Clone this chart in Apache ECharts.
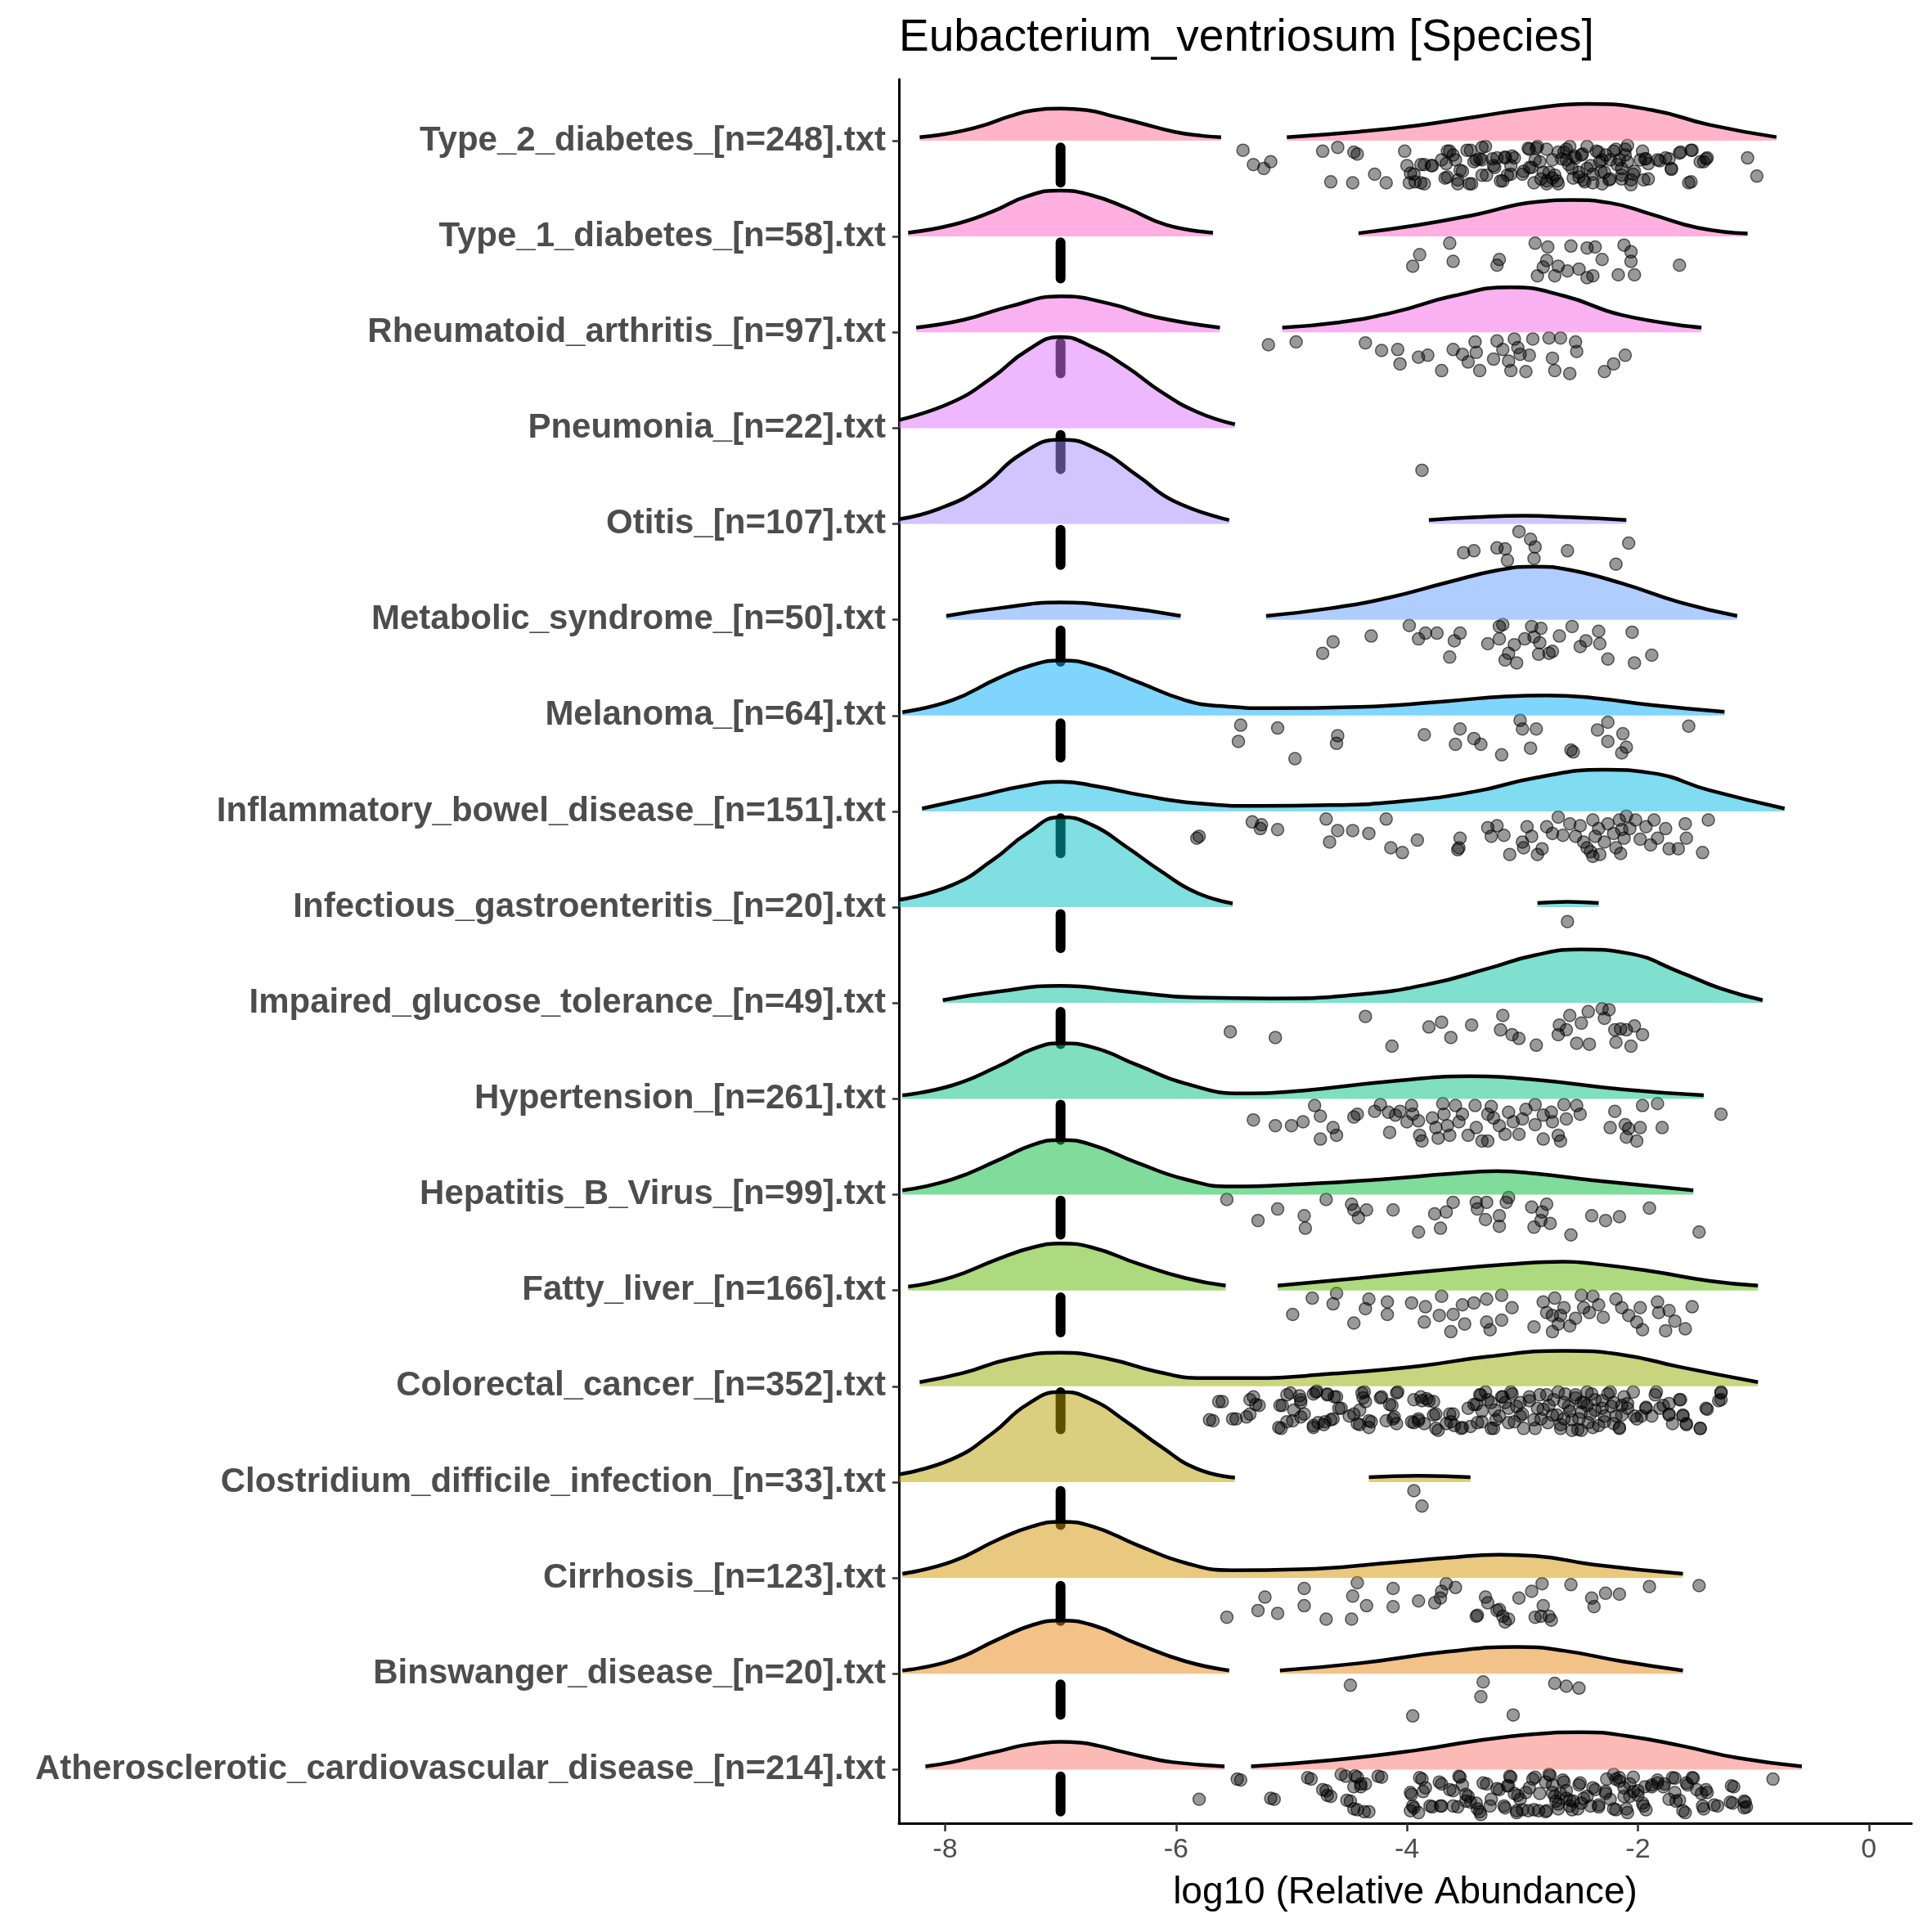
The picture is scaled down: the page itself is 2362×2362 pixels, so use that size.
<!DOCTYPE html>
<html>
<head>
<meta charset="utf-8">
<script src="https://cdn.jsdelivr.net/npm/echarts@6/dist/echarts.min.js"></script>
<style>
html, body { margin: 0; padding: 0; background: #fff; }
#main { width: 2362px; height: 2362px; }
</style>
</head>
<body>
<div id="main"></div>
<script>
// rows from bottom (1) to top (18)
var categories = [
  'Atherosclerotic_cardiovascular_disease_[n=214].txt',
  'Binswanger_disease_[n=20].txt',
  'Cirrhosis_[n=123].txt',
  'Clostridium_difficile_infection_[n=33].txt',
  'Colorectal_cancer_[n=352].txt',
  'Fatty_liver_[n=166].txt',
  'Hepatitis_B_Virus_[n=99].txt',
  'Hypertension_[n=261].txt',
  'Impaired_glucose_tolerance_[n=49].txt',
  'Infectious_gastroenteritis_[n=20].txt',
  'Inflammatory_bowel_disease_[n=151].txt',
  'Melanoma_[n=64].txt',
  'Metabolic_syndrome_[n=50].txt',
  'Otitis_[n=107].txt',
  'Pneumonia_[n=22].txt',
  'Rheumatoid_arthritis_[n=97].txt',
  'Type_1_diabetes_[n=58].txt',
  'Type_2_diabetes_[n=248].txt'
];

// half-violin outlines per row: pieces of [log10 abundance, height above row]
var density = [
  [[[-8.17,0.034],[-7.94,0.077],[-7.69,0.15],[-7.49,0.205],[-7.34,0.25],[-7.19,0.276],[-7.0,0.29],[-6.83,0.28],[-6.68,0.25],[-6.48,0.19],[-6.28,0.134],[-6.03,0.077],[-5.58,0.034]],
   [[-5.35,0.034],[-4.66,0.097],[-3.90,0.205],[-3.40,0.30],[-2.89,0.37],[-2.49,0.39],[-2.09,0.35],[-1.63,0.25],[-1.13,0.12],[-0.58,0.034]]],
  [[[-8.37,0.034],[-7.94,0.14],[-7.54,0.36],[-7.24,0.51],[-7.0,0.555],[-6.73,0.51],[-6.33,0.31],[-5.92,0.13],[-5.54,0.034]],
   [[-5.10,0.034],[-4.41,0.11],[-3.65,0.23],[-3.05,0.28],[-2.64,0.24],[-2.14,0.13],[-1.61,0.034]]],
  [[[-8.37,0.043],[-7.94,0.17],[-7.54,0.40],[-7.24,0.54],[-7.0,0.585],[-6.73,0.54],[-6.33,0.34],[-5.92,0.157],[-5.52,0.08],[-4.91,0.09],[-4.16,0.157],[-3.65,0.21],[-3.20,0.243],[-2.89,0.23],[-2.39,0.14],[-1.61,0.043]]],
  [[[-8.40,0.08],[-7.94,0.24],[-7.59,0.51],[-7.29,0.81],[-7.0,0.94],[-6.73,0.86],[-6.43,0.63],[-6.13,0.37],[-5.82,0.14],[-5.49,0.046]],
   [[-4.33,0.05],[-3.90,0.066],[-3.45,0.05]]],
  [[[-8.22,0.043],[-7.84,0.14],[-7.44,0.285],[-7.0,0.35],[-6.58,0.285],[-6.18,0.157],[-5.77,0.086],[-5.32,0.086],[-4.66,0.13],[-3.90,0.21],[-3.30,0.31],[-2.64,0.37],[-2.14,0.33],[-1.63,0.20],[-0.96,0.043]]],
  [[[-8.32,0.04],[-7.94,0.14],[-7.54,0.33],[-7.24,0.45],[-7.0,0.49],[-6.73,0.45],[-6.33,0.28],[-5.92,0.13],[-5.57,0.05]],
   [[-5.12,0.05],[-4.41,0.13],[-3.65,0.22],[-3.15,0.27],[-2.64,0.30],[-2.39,0.28],[-1.88,0.20],[-1.38,0.10],[-0.96,0.05]]],
  [[[-8.37,0.045],[-7.94,0.16],[-7.54,0.36],[-7.24,0.52],[-7.0,0.57],[-6.73,0.52],[-6.33,0.33],[-5.92,0.16],[-5.52,0.085],[-4.91,0.11],[-4.16,0.165],[-3.65,0.215],[-3.22,0.245],[-2.89,0.22],[-2.39,0.15],[-1.52,0.045]]],
  [[[-8.37,0.037],[-7.94,0.14],[-7.54,0.34],[-7.24,0.52],[-7.0,0.58],[-6.73,0.54],[-6.33,0.35],[-5.92,0.16],[-5.42,0.057],[-4.91,0.085],[-4.16,0.18],[-3.45,0.235],[-2.89,0.20],[-2.14,0.10],[-1.43,0.037]]],
  [[[-8.02,0.03],[-7.54,0.12],[-7.0,0.18],[-6.43,0.12],[-5.82,0.057],[-5.17,0.048],[-4.41,0.09],[-3.80,0.20],[-3.30,0.36],[-2.89,0.50],[-2.49,0.56],[-2.09,0.52],[-1.63,0.32],[-1.28,0.15],[-0.92,0.03]]],
  [[[-8.40,0.077],[-7.94,0.23],[-7.59,0.49],[-7.29,0.77],[-7.0,0.94],[-6.73,0.86],[-6.43,0.63],[-6.13,0.375],[-5.82,0.15],[-5.51,0.04]],
   [[-2.87,0.043],[-2.61,0.057],[-2.34,0.043]]],
  [[[-8.20,0.03],[-7.69,0.165],[-7.34,0.26],[-7.0,0.31],[-6.68,0.26],[-6.28,0.165],[-5.82,0.085],[-5.27,0.057],[-4.66,0.065],[-4.00,0.11],[-3.40,0.21],[-2.89,0.35],[-2.29,0.435],[-1.88,0.40],[-1.38,0.22],[-0.73,0.03]]],
  [[[-8.37,0.035],[-7.94,0.16],[-7.54,0.39],[-7.24,0.53],[-7.0,0.575],[-6.73,0.53],[-6.33,0.35],[-5.92,0.16],[-5.62,0.10],[-5.17,0.077],[-4.41,0.09],[-3.65,0.15],[-3.15,0.20],[-2.79,0.21],[-2.39,0.185],[-1.88,0.11],[-1.25,0.04]]],
  [[[-7.99,0.04],[-7.54,0.12],[-7.0,0.18],[-6.53,0.14],[-5.96,0.04]],
   [[-5.22,0.04],[-4.66,0.12],[-4.16,0.23],[-3.65,0.39],[-3.20,0.52],[-2.89,0.555],[-2.59,0.52],[-2.14,0.38],[-1.63,0.18],[-1.14,0.04]]],
  [[[-8.40,0.05],[-8.05,0.16],[-7.69,0.38],[-7.34,0.73],[-7.0,0.88],[-6.68,0.78],[-6.33,0.50],[-6.02,0.24],[-5.54,0.04]],
   [[-3.81,0.04],[-3.40,0.07],[-2.99,0.085],[-2.59,0.07],[-2.10,0.04]]],
  [[[-8.40,0.085],[-7.94,0.27],[-7.59,0.53],[-7.29,0.81],[-7.0,0.95],[-6.73,0.85],[-6.43,0.64],[-6.13,0.38],[-5.82,0.17],[-5.49,0.04]]],
  [[[-8.25,0.05],[-7.84,0.13],[-7.44,0.27],[-7.0,0.375],[-6.58,0.30],[-6.18,0.16],[-5.62,0.05]],
   [[-5.08,0.05],[-4.61,0.10],[-4.11,0.21],[-3.60,0.38],[-3.10,0.47],[-2.64,0.38],[-2.14,0.18],[-1.45,0.05]]],
  [[[-8.32,0.04],[-7.94,0.12],[-7.59,0.26],[-7.29,0.42],[-7.0,0.48],[-6.73,0.43],[-6.43,0.30],[-6.08,0.12],[-5.68,0.04]],
   [[-4.42,0.034],[-3.90,0.12],[-3.40,0.23],[-2.89,0.36],[-2.57,0.38],[-2.24,0.35],[-1.88,0.23],[-1.48,0.09],[-1.05,0.03]]],
  [[[-8.22,0.037],[-8.05,0.06],[-7.84,0.105],[-7.64,0.17],[-7.44,0.255],[-7.24,0.315],[-7.0,0.335],[-6.78,0.32],[-6.53,0.25],[-6.33,0.19],[-6.02,0.094],[-5.77,0.05],[-5.61,0.037]],
   [[-5.04,0.037],[-4.41,0.094],[-3.90,0.16],[-3.40,0.25],[-2.89,0.34],[-2.44,0.383],[-1.88,0.32],[-1.38,0.165],[-0.80,0.037]]]
];

// non-zero samples: [log10 abundance, jitter below row]
var points = [
  [[-5.80,0.31],[-5.44,0.11],[-5.15,0.31],[-4.83,0.10],[-4.70,0.22],[-4.66,0.28],[-4.53,0.07],[-4.49,0.33],[-4.43,0.08],[-4.40,0.18],[-4.36,0.15],[-4.43,0.42],[-4.33,0.44],[-4.22,0.08],[-3.96,0.26],[-3.94,0.40],[-3.90,0.45],[-3.87,0.10],[-3.84,0.19],[-3.78,0.39],[-3.70,0.38],[-3.70,0.15],[-3.60,0.22],[-3.56,0.39],[-3.54,0.08],[-3.52,0.16],[-3.47,0.28],[-3.45,0.34],[-3.39,0.41],[-3.36,0.47],[-3.31,0.15],[-3.27,0.31],[-3.20,0.21],[-3.15,0.40],[-3.12,0.17],[-3.10,0.08],[-3.07,0.25],[-3.05,0.45],[-3.02,0.31],[-3.00,0.42],[-2.94,0.19],[-2.90,0.42],[-2.89,0.08],[-2.85,0.25],[-2.80,0.44],[-2.77,0.05],[-2.74,0.16],[-2.72,0.28],[-2.69,0.36],[-2.65,0.11],[-2.62,0.22],[-2.59,0.32],[-2.57,0.42],[-2.51,0.16],[-2.49,0.35],[-2.44,0.28],[-2.39,0.19],[-2.34,0.39],[-2.28,0.25],[-2.21,0.05],[-2.19,0.42],[-2.16,0.12],[-2.12,0.19],[-2.09,0.45],[-2.07,0.28],[-2.04,0.08],[-2.00,0.22],[-1.96,0.35],[-1.93,0.42],[-1.88,0.16],[-1.83,0.11],[-1.78,0.18],[-1.73,0.31],[-1.68,0.09],[-1.64,0.32],[-1.59,0.45],[-1.57,0.16],[-1.52,0.09],[-1.45,0.25],[-1.43,0.41],[-1.40,0.24],[-1.31,0.38],[-1.18,0.35],[-1.17,0.18],[-1.07,0.34],[-1.06,0.39],[-0.83,0.10],[-2.67,0.25],[-2.24,0.31],
   [-5.47,0.10],[-5.18,0.30],[-4.86,0.085],[-4.73,0.21],[-4.69,0.27],[-4.57,0.05],[-4.45,0.065],[-4.40,0.15],[-4.46,0.18],[-4.52,0.32],[-4.46,0.41],[-4.37,0.44],[-4.25,0.07],[-3.97,0.24],[-3.95,0.38],[-3.97,0.43],[-3.89,0.085],[-3.86,0.23],[-3.80,0.38],[-3.72,0.13],[-3.71,0.38],[-3.63,0.21],[-3.60,0.38],[-3.55,0.07],[-3.49,0.26],[-3.49,0.33],[-3.40,0.35],[-3.37,0.44],[-3.34,0.14],[-3.28,0.38],[-3.22,0.20],[-3.16,0.38],[-3.13,0.17],[-3.11,0.07],[-3.04,0.27],[-3.05,0.43],[-2.97,0.24],[-2.95,0.43],[-2.91,0.10],[-2.86,0.43],[-2.80,0.13],[-2.79,0.43],[-2.76,0.06],[-2.74,0.24],[-2.71,0.33],[-2.69,0.41],[-2.64,0.13],[-2.62,0.30],[-2.59,0.38],[-2.56,0.33],[-2.52,0.41],[-2.50,0.14],[-2.47,0.30],[-2.41,0.38],[-2.37,0.21],[-2.34,0.37],[-2.28,0.23],[-2.27,0.10],[-2.21,0.41],[-2.19,0.10],[-2.16,0.085],[-2.12,0.28],[-2.10,0.41],[-2.07,0.15],[-2.04,0.23],[-2.00,0.27],[-1.95,0.38],[-1.94,0.18],[-1.88,0.18],[-1.83,0.14],[-1.77,0.15],[-1.70,0.085],[-1.68,0.24],[-1.67,0.33],[-1.61,0.43],[-1.58,0.14],[-1.53,0.085],[-1.49,0.21],[-1.44,0.38],[-1.41,0.21],[-1.34,0.37],[-1.20,0.34],[-1.19,0.17],[-1.08,0.33],[-1.08,0.40]],
  [[-4.49,0.12],[-3.34,0.085],[-3.36,0.24],[-2.72,0.10],[-2.62,0.13],[-2.51,0.15],[-3.95,0.44],[-3.08,0.43]],
  [[-5.56,0.41],[-5.29,0.34],[-5.23,0.20],[-5.12,0.37],[-4.89,0.11],[-4.89,0.29],[-4.70,0.43],[-4.48,0.43],[-4.47,0.19],[-4.43,0.05],[-4.35,0.29],[-4.12,0.11],[-4.12,0.30],[-3.90,0.24],[-3.76,0.26],[-3.71,0.21],[-3.70,0.14],[-3.66,0.06],[-3.58,0.10],[-3.39,0.39],[-3.32,0.20],[-3.30,0.26],[-3.22,0.34],[-3.17,0.40],[-3.15,0.46],[-3.03,0.21],[-2.92,0.14],[-2.89,0.41],[-2.83,0.06],[-2.82,0.29],[-2.77,0.40],[-2.75,0.44],[-2.58,0.07],[-2.40,0.21],[-2.38,0.30],[-2.28,0.16],[-2.16,0.17],[-1.90,0.09],[-1.47,0.08],[-3.40,0.40],[-3.12,0.43],[-2.84,0.40],[-3.20,0.33]],
  [[-3.94,0.09],[-3.87,0.25]],
  [[-5.68,0.36],[-5.60,0.16],[-5.48,0.34],[-5.36,0.29],[-5.33,0.11],[-5.28,0.20],[-5.09,0.44],[-5.08,0.20],[-5.01,0.07],[-4.99,0.36],[-4.92,0.14],[-4.89,0.29],[-4.81,0.43],[-4.79,0.06],[-4.72,0.40],[-4.69,0.09],[-4.64,0.34],[-4.61,0.11],[-4.57,0.23],[-4.46,0.29],[-4.41,0.40],[-4.37,0.06],[-4.36,0.16],[-4.31,0.37],[-4.22,0.11],[-4.13,0.20],[-4.12,0.34],[-4.08,0.06],[-3.96,0.37],[-3.90,0.34],[-3.88,0.11],[-3.83,0.13],[-3.75,0.29],[-3.73,0.46],[-3.62,0.37],[-3.60,0.29],[-3.52,0.43],[-3.47,0.23],[-3.40,0.19],[-3.37,0.09],[-3.35,0.37],[-3.32,0.06],[-3.27,0.17],[-3.25,0.44],[-3.20,0.31],[-3.17,0.11],[-3.12,0.23],[-3.10,0.06],[-3.07,0.37],[-3.02,0.17],[-3.00,0.29],[-2.94,0.11],[-2.89,0.44],[-2.87,0.23],[-2.84,0.34],[-2.79,0.09],[-2.77,0.20],[-2.74,0.30],[-2.69,0.06],[-2.67,0.40],[-2.64,0.17],[-2.59,0.26],[-2.57,0.46],[-2.54,0.09],[-2.51,0.34],[-2.49,0.17],[-2.44,0.06],[-2.41,0.29],[-2.39,0.43],[-2.37,0.14],[-2.31,0.23],[-2.29,0.37],[-2.24,0.06],[-2.21,0.17],[-2.19,0.31],[-2.16,0.43],[-2.12,0.11],[-2.09,0.23],[-2.04,0.06],[-2.01,0.34],[-1.93,0.23],[-1.88,0.31],[-1.84,0.06],[-1.78,0.20],[-1.73,0.29],[-1.70,0.39],[-1.63,0.14],[-1.61,0.30],[-1.58,0.40],[-1.46,0.44],[-1.41,0.23],[-1.28,0.14],[-1.28,0.06],[-3.35,0.26],[-2.64,0.34],[-2.44,0.20],[-2.14,0.20],[-2.49,0.46],
   [-5.63,0.16],[-5.71,0.35],[-5.51,0.34],[-5.39,0.32],[-5.36,0.14],[-5.31,0.19],[-5.10,0.20],[-5.04,0.09],[-4.98,0.25],[-4.93,0.10],[-4.92,0.17],[-4.92,0.32],[-5.04,0.37],[-5.11,0.43],[-4.81,0.08],[-4.78,0.05],[-4.69,0.08],[-4.63,0.11],[-4.59,0.23],[-4.81,0.41],[-4.77,0.38],[-4.71,0.37],[-4.66,0.35],[-4.50,0.31],[-4.41,0.25],[-4.38,0.12],[-4.39,0.07],[-4.43,0.39],[-4.33,0.36],[-4.33,0.43],[-4.23,0.12],[-4.15,0.19],[-4.09,0.07],[-4.18,0.36],[-4.11,0.32],[-4.09,0.39],[-3.94,0.14],[-3.87,0.15],[-3.81,0.15],[-3.77,0.16],[-3.94,0.38],[-3.90,0.36],[-3.85,0.39],[-3.77,0.30],[-3.75,0.44],[-3.66,0.39],[-3.63,0.29],[-3.59,0.41],[-3.53,0.44],[-3.45,0.42],[-3.39,0.38],[-3.42,0.19],[-3.36,0.09],[-3.30,0.14],[-3.24,0.25],[-3.23,0.35],[-3.27,0.44],[-3.18,0.11],[-3.15,0.17],[-3.12,0.38],[-3.09,0.08],[-3.05,0.21],[-3.02,0.31],[-2.99,0.44],[-2.94,0.15],[-2.90,0.35],[-2.85,0.09],[-2.82,0.24],[-2.78,0.38],[-2.73,0.14],[-2.70,0.30],[-2.67,0.44],[-2.63,0.08],[-2.60,0.21],[-2.57,0.35],[-2.54,0.12],[-2.52,0.45],[-2.49,0.27],[-2.47,0.17],[-2.43,0.38],[-2.40,0.08],[-2.37,0.25],[-2.34,0.41],[-2.31,0.15],[-2.29,0.31],[-2.26,0.08],[-2.23,0.21],[-2.21,0.39],[-2.16,0.44],[-2.14,0.30],[-2.09,0.18],[-2.03,0.31],[-1.97,0.31],[-1.93,0.22],[-1.85,0.09],[-1.81,0.23],[-1.73,0.30],[-1.73,0.18],[-1.64,0.14],[-1.61,0.31],[-1.58,0.39],[-1.46,0.44],[-1.40,0.24],[-1.30,0.15],[-1.28,0.07]],
  [[-4.99,0.25],[-4.82,0.08],[-4.64,0.14],[-4.61,0.03],[-4.46,0.34],[-4.36,0.19],[-4.33,0.09],[-4.17,0.12],[-4.17,0.25],[-3.96,0.13],[-3.84,0.17],[-3.85,0.33],[-3.72,0.26],[-3.70,0.06],[-3.62,0.43],[-3.60,0.25],[-3.52,0.15],[-3.50,0.35],[-3.42,0.13],[-3.31,0.09],[-3.31,0.33],[-3.28,0.41],[-3.18,0.31],[-3.18,0.05],[-3.09,0.18],[-2.90,0.38],[-2.82,0.12],[-2.79,0.23],[-2.74,0.43],[-2.72,0.08],[-2.67,0.26],[-2.64,0.18],[-2.59,0.37],[-2.54,0.29],[-2.49,0.05],[-2.47,0.18],[-2.39,0.06],[-2.34,0.15],[-2.30,0.28],[-2.19,0.09],[-2.14,0.18],[-2.08,0.26],[-2.01,0.33],[-1.96,0.41],[-1.98,0.18],[-1.83,0.12],[-1.82,0.23],[-1.76,0.42],[-1.73,0.21],[-1.68,0.32],[-1.59,0.40],[-1.53,0.17],[-2.74,0.26],[-2.69,0.35],[-2.42,0.23]],
  [[-5.56,0.05],[-5.29,0.27],[-5.12,0.15],[-4.89,0.22],[-4.88,0.35],[-4.70,0.05],[-4.48,0.10],[-4.46,0.16],[-4.42,0.24],[-4.35,0.16],[-4.12,0.16],[-3.90,0.39],[-3.76,0.20],[-3.71,0.35],[-3.66,0.18],[-3.60,0.08],[-3.40,0.08],[-3.39,0.15],[-3.31,0.08],[-3.32,0.26],[-3.20,0.22],[-3.20,0.33],[-3.14,0.08],[-3.12,0.03],[-2.92,0.13],[-2.83,0.18],[-2.79,0.10],[-2.84,0.27],[-2.90,0.34],[-2.76,0.30],[-2.58,0.42],[-2.40,0.22],[-2.28,0.27],[-2.16,0.23],[-1.90,0.14],[-1.47,0.39]],
  [[-5.33,0.22],[-5.14,0.28],[-5.00,0.28],[-4.90,0.24],[-4.80,0.07],[-4.75,0.18],[-4.75,0.42],[-4.64,0.30],[-4.61,0.38],[-4.46,0.19],[-4.43,0.16],[-4.28,0.13],[-4.23,0.06],[-4.16,0.14],[-4.15,0.35],[-4.10,0.17],[-4.06,0.13],[-3.96,0.07],[-3.95,0.16],[-3.90,0.23],[-3.89,0.38],[-3.87,0.44],[-3.78,0.20],[-3.75,0.30],[-3.73,0.41],[-3.69,0.05],[-3.68,0.16],[-3.65,0.28],[-3.63,0.38],[-3.58,0.07],[-3.52,0.16],[-3.47,0.38],[-3.41,0.07],[-3.40,0.30],[-3.35,0.44],[-3.30,0.44],[-3.27,0.08],[-3.25,0.20],[-3.20,0.28],[-3.15,0.37],[-3.12,0.14],[-3.03,0.37],[-3.00,0.21],[-2.97,0.11],[-2.89,0.06],[-2.89,0.27],[-2.82,0.42],[-2.75,0.14],[-2.74,0.24],[-2.69,0.38],[-2.67,0.44],[-2.64,0.06],[-2.62,0.21],[-2.53,0.07],[-2.50,0.16],[-2.20,0.13],[-2.24,0.30],[-2.11,0.27],[-2.10,0.40],[-2.08,0.31],[-1.98,0.30],[-2.01,0.44],[-1.96,0.07],[-1.83,0.05],[-1.79,0.30],[-1.28,0.16],[-3.30,0.16],[-2.82,0.17],[-3.55,0.24],[-3.08,0.24],[-4.00,0.24]],
  [[-5.53,0.30],[-5.14,0.36],[-4.36,0.14],[-4.13,0.45],[-3.81,0.25],[-3.70,0.20],[-3.62,0.36],[-3.44,0.23],[-3.17,0.13],[-3.19,0.28],[-3.09,0.33],[-3.03,0.37],[-2.88,0.44],[-2.69,0.33],[-2.68,0.23],[-2.62,0.28],[-2.59,0.13],[-2.53,0.42],[-2.49,0.21],[-2.42,0.43],[-2.43,0.09],[-2.31,0.06],[-2.29,0.16],[-2.25,0.07],[-2.20,0.28],[-2.19,0.41],[-2.10,0.28],[-2.06,0.45],[-2.03,0.24],[-1.96,0.33],[-2.15,0.27]],
  [[-2.61,0.15]],
  [[-5.82,0.28],[-5.80,0.26],[-5.34,0.11],[-5.26,0.14],[-5.27,0.18],[-5.12,0.19],[-4.70,0.08],[-4.67,0.32],[-4.60,0.20],[-4.47,0.20],[-4.33,0.23],[-4.18,0.08],[-4.14,0.38],[-4.04,0.43],[-3.91,0.30],[-3.55,0.38],[-3.54,0.28],[-3.56,0.40],[-3.30,0.17],[-3.27,0.26],[-3.22,0.15],[-3.16,0.25],[-3.11,0.45],[-3.00,0.32],[-2.99,0.38],[-2.96,0.16],[-2.92,0.26],[-2.87,0.45],[-2.83,0.39],[-2.79,0.16],[-2.74,0.23],[-2.69,0.06],[-2.65,0.25],[-2.59,0.13],[-2.54,0.26],[-2.50,0.15],[-2.44,0.38],[-2.41,0.42],[-2.39,0.09],[-2.37,0.26],[-2.34,0.18],[-2.33,0.45],[-2.29,0.32],[-2.26,0.13],[-2.21,0.23],[-2.19,0.38],[-2.16,0.09],[-2.15,0.44],[-2.12,0.28],[-2.10,0.05],[-2.07,0.18],[-2.02,0.09],[-1.98,0.29],[-1.93,0.16],[-1.89,0.35],[-1.86,0.09],[-1.83,0.28],[-1.76,0.18],[-1.73,0.39],[-1.65,0.39],[-1.59,0.13],[-1.58,0.28],[-1.44,0.43],[-1.39,0.09],[-2.39,0.47],[-2.14,0.19],[-2.47,0.32]],
  [[-5.44,0.10],[-5.46,0.27],[-5.12,0.13],[-4.97,0.45],[-4.60,0.21],[-4.61,0.29],[-3.85,0.20],[-3.54,0.14],[-3.58,0.30],[-3.42,0.24],[-3.36,0.30],[-3.18,0.41],[-3.02,0.05],[-3.00,0.14],[-2.88,0.14],[-2.93,0.34],[-2.58,0.36],[-2.56,0.38],[-2.35,0.15],[-2.26,0.07],[-2.26,0.27],[-2.13,0.19],[-2.10,0.33],[-2.14,0.39],[-1.56,0.11]],
  [[-4.73,0.35],[-4.64,0.23],[-4.31,0.17],[-3.98,0.06],[-3.90,0.20],[-3.84,0.14],[-3.74,0.14],[-3.59,0.22],[-3.54,0.14],[-3.63,0.39],[-3.30,0.25],[-3.20,0.20],[-3.20,0.07],[-3.17,0.05],[-3.12,0.35],[-3.15,0.42],[-3.07,0.26],[-3.05,0.45],[-2.98,0.20],[-2.92,0.07],[-2.90,0.18],[-2.85,0.24],[-2.84,0.09],[-2.86,0.36],[-2.77,0.35],[-2.74,0.33],[-2.68,0.17],[-2.57,0.07],[-2.50,0.28],[-2.45,0.22],[-2.34,0.12],[-2.33,0.25],[-2.26,0.41],[-2.05,0.13],[-2.03,0.45],[-1.88,0.37]],
  [[-3.03,0.08],[-2.93,0.16],[-2.89,0.24],[-3.51,0.30],[-3.42,0.28],[-3.22,0.25],[-3.15,0.26],[-3.13,0.38],[-2.90,0.36],[-2.61,0.28],[-2.08,0.20],[-2.19,0.42]],
  [[-3.87,0.44]],
  [[-5.20,0.13],[-4.96,0.10],[-4.36,0.11],[-4.22,0.19],[-4.08,0.18],[-4.06,0.33],[-3.90,0.26],[-3.82,0.24],[-3.70,0.40],[-3.60,0.18],[-3.52,0.23],[-3.47,0.31],[-3.41,0.10],[-3.40,0.21],[-3.37,0.40],[-3.25,0.28],[-3.22,0.09],[-3.17,0.18],[-3.12,0.30],[-3.10,0.40],[-3.07,0.07],[-3.04,0.16],[-2.97,0.41],[-2.94,0.24],[-2.91,0.07],[-2.77,0.06],[-2.74,0.27],[-2.72,0.40],[-2.67,0.06],[-2.59,0.43],[-2.54,0.10],[-2.53,0.20],[-2.29,0.41],[-2.21,0.33],[-2.11,0.24],[-3.02,0.23]],
  [[-3.63,0.07],[-3.89,0.19],[-3.95,0.31],[-3.60,0.26],[-3.20,0.24],[-3.22,0.30],[-2.89,0.07],[-2.78,0.11],[-2.58,0.10],[-2.44,0.12],[-2.37,0.11],[-2.12,0.09],[-2.06,0.16],[-2.06,0.26],[-2.31,0.24],[-2.79,0.25],[-2.69,0.31],[-2.82,0.32],[-2.87,0.41],[-2.72,0.41],[-2.61,0.36],[-2.51,0.34],[-2.44,0.43],[-2.39,0.41],[-2.17,0.40],[-2.03,0.40],[-1.64,0.30]],
  [[-5.42,0.10],[-5.33,0.25],[-5.24,0.29],[-5.18,0.22],[-4.73,0.11],[-4.60,0.07],[-4.46,0.12],[-4.43,0.14],[-4.66,0.43],[-4.47,0.44],[-4.28,0.35],[-4.18,0.44],[-4.02,0.11],[-4.00,0.26],[-3.94,0.35],[-3.93,0.43],[-3.85,0.45],[-3.85,0.25],[-3.78,0.26],[-3.70,0.20],[-3.63,0.11],[-3.65,0.38],[-3.58,0.20],[-3.56,0.45],[-3.52,0.32],[-3.45,0.10],[-3.44,0.45],[-3.40,0.20],[-3.32,0.06],[-3.31,0.36],[-3.35,0.20],[-3.22,0.18],[-3.25,0.26],[-3.17,0.42],[-3.15,0.18],[-3.10,0.35],[-3.07,0.18],[-2.99,0.32],[-2.94,0.09],[-2.92,0.28],[-2.87,0.06],[-2.84,0.40],[-2.79,0.45],[-2.77,0.33],[-2.72,0.36],[-2.69,0.45],[-2.64,0.12],[-2.62,0.20],[-2.59,0.06],[-2.57,0.29],[-2.54,0.18],[-2.51,0.38],[-2.46,0.43],[-2.44,0.06],[-2.41,0.26],[-2.34,0.12],[-2.31,0.20],[-2.29,0.33],[-2.31,0.45],[-2.24,0.40],[-2.19,0.09],[-2.16,0.20],[-2.14,0.29],[-2.09,0.05],[-2.06,0.46],[-2.04,0.35],[-1.98,0.20],[-1.93,0.19],[-1.91,0.40],[-1.83,0.20],[-1.73,0.19],[-1.71,0.30],[-1.63,0.12],[-1.53,0.10],[-1.54,0.43],[-1.43,0.22],[-1.40,0.18],[-1.05,0.18],[-0.97,0.37],[-2.74,0.20],[-2.49,0.15],[-2.39,0.35],[-2.11,0.15],[-2.89,0.20],[-2.79,0.09],[-2.24,0.20],[-2.44,0.29],[-2.14,0.40],[-3.10,0.26],
   [-3.97,0.34],[-3.98,0.44],[-3.88,0.44],[-3.88,0.25],[-3.79,0.26],[-3.66,0.24],[-3.65,0.11],[-3.60,0.15],[-3.67,0.39],[-3.54,0.31],[-3.56,0.41],[-3.46,0.45],[-3.48,0.10],[-3.42,0.22],[-3.37,0.19],[-3.35,0.07],[-3.35,0.36],[-3.26,0.19],[-3.24,0.28],[-3.19,0.42],[-3.15,0.17],[-3.13,0.36],[-3.09,0.16],[-3.00,0.35],[-2.95,0.08],[-2.94,0.28],[-2.90,0.44],[-2.88,0.08],[-2.85,0.22],[-2.82,0.33],[-2.79,0.42],[-2.74,0.39],[-2.70,0.42],[-2.69,0.12],[-2.66,0.19],[-2.60,0.25],[-2.62,0.09],[-2.56,0.39],[-2.55,0.16],[-2.48,0.14],[-2.51,0.33],[-2.47,0.41],[-2.39,0.44],[-2.36,0.11],[-2.33,0.22],[-2.32,0.32],[-2.28,0.15],[-2.25,0.41],[-2.21,0.11],[-2.18,0.25],[-2.14,0.36],[-2.11,0.09],[-2.09,0.22],[-2.06,0.41],[-2.03,0.32],[-1.96,0.11],[-1.94,0.19],[-1.95,0.41],[-1.91,0.24],[-1.81,0.21],[-1.76,0.18],[-1.71,0.29],[-1.64,0.13],[-1.54,0.10],[-1.56,0.44],[-1.46,0.22],[-1.41,0.19]]
];

// extent of the stacked zero samples at -7: [top, bottom] below row
var zeroBars = [
  [0.02,0.49],[0.06,0.48],[0.03,0.50],[0.04,0.50],[0.01,0.50],[0.02,0.49],
  [0.01,0.47],[0.01,0.48],[0.04,0.48],[0.02,0.48],[0.02,0.49],[0.03,0.49],
  [0.06,0.49],[0.01,0.48],[0.02,0.48],[0.06,0.48],[0.01,0.49],[0.02,0.49]
];
var zeroValue = -7;

var xTicks = [-8, -6, -4, -2, 0];

var palette = ['#F8766D','#E68613','#D39200','#B79F00','#93AA00','#5BB300','#00BA38','#00BF7D','#00C19F',
               '#00BFC4','#00B9E3','#00ABFD','#619CFF','#A58AFF','#DB72FB','#F564E3','#FF61C3','#FF6A98'];

function initChart(){
    var myChart = echarts.init(document.getElementById('main'));
    var font = 'Liberation Sans, Arial, sans-serif';
    var rows = categories.map(function (c, i) { return i + 1; });
    var series = [];

    // jittered points
    var scatterData = [];
    points.forEach(function (list, i) {
        list.forEach(function (p) { scatterData.push([p[0], i + 1 - p[1]]); });
    });
    series.push({
        type: 'scatter',
        data: scatterData,
        symbolSize: 15,
        silent: true,
        z: 1,
        itemStyle: { color: 'rgba(0,0,0,0.5)', borderColor: 'rgba(0,0,0,0.75)', borderWidth: 1.5 }
    });

    // the pile of zero samples drawn as a solid stroke
    series.push({
        type: 'custom',
        silent: true,
        z: 1,
        clip: true,
        data: zeroBars.map(function (b, i) { return [zeroValue, i + 1 - b[0], i + 1 - b[1]]; }),
        encode: { x: 0, y: [1, 2] },
        renderItem: function (params, api) {
            var r = 6;
            var a = api.coord([api.value(0), api.value(1)]);
            var b = api.coord([api.value(0), api.value(2)]);
            return {
                type: 'line',
                shape: { x1: a[0], y1: a[1] + r, x2: b[0], y2: b[1] - r },
                style: { stroke: '#000', lineWidth: 12, lineCap: 'round' }
            };
        }
    });

    // half violins
    density.forEach(function (pieces, i) {
        var row = i + 1;
        pieces.forEach(function (piece) {
            series.push({
                type: 'line',
                data: piece.map(function (p) { return [p[0], row + p[1]]; }),
                smooth: 0.5,
                symbol: 'none',
                silent: true,
                z: 3,
                lineStyle: { color: '#000', width: 4.5 },
                areaStyle: { color: palette[i], opacity: 0.5, origin: row }
            });
        });
    });

    var option = {
        animation: false,
        backgroundColor: '#fff',
        title: {
            text: 'Eubacterium_ventriosum [Species]',
            left: 1094,
            top: 14,
            textStyle: { fontFamily: font, fontSize: 55, fontWeight: 'normal', color: '#000' }
        },
        grid: { left: 1099, right: 25, top: 97, bottom: 133 },
        xAxis: {
            type: 'value',
            min: -8.4,
            max: 0.37,
            name: 'log10 (Relative Abundance)',
            nameLocation: 'middle',
            nameGap: 62,
            nameTextStyle: { fontFamily: font, fontSize: 46, color: '#000' },
            axisLine: { onZero: false, lineStyle: { color: '#000', width: 3 } },
            axisTick: { show: true, customValues: xTicks, length: 10, lineStyle: { color: '#333', width: 2.5 } },
            axisLabel: { customValues: xTicks, fontFamily: font, fontSize: 34, color: '#4D4D4D', margin: 16 },
            splitLine: { show: false }
        },
        yAxis: {
            type: 'value',
            min: 0.44,
            max: 18.64,
            axisLine: { show: true, onZero: false, lineStyle: { color: '#000', width: 3 } },
            axisTick: { show: true, customValues: rows, length: 8, lineStyle: { color: '#333', width: 2.5 } },
            axisLabel: {
                customValues: rows,
                formatter: function (v) { return categories[Math.round(v) - 1]; },
                fontFamily: font, fontSize: 42, fontWeight: 'bold', color: '#4D4D4D', margin: 16
            },
            splitLine: { show: false }
        },
        series: series
    };
    myChart.setOption(option);
}

initChart();
</script>
</body>
</html>
